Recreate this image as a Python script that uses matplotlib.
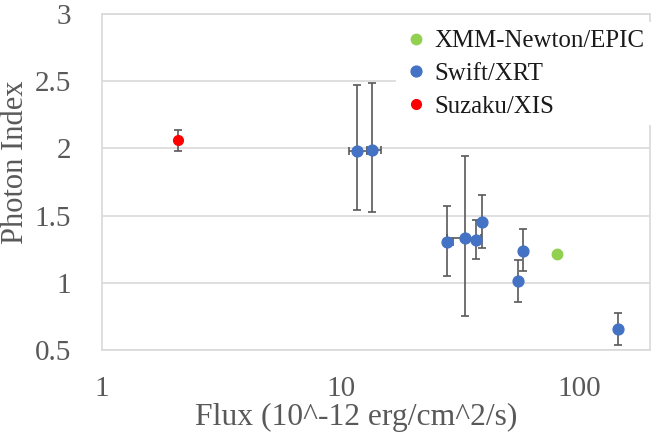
import matplotlib
matplotlib.use("Agg")
import matplotlib.pyplot as plt
import numpy as np

# XMM-Newton/EPIC
xmm_flux = [80.2]
xmm_index = [1.215]

# Swift/XRT
swift_flux = [11.7, 13.5, 28.0, 33.3, 37.0, 39.1, 55.5, 57.7, 144.3]
swift_index = [1.98, 1.99, 1.30, 1.33, 1.32, 1.45, 1.01, 1.24, 0.66]
swift_index_lo = [1.54, 1.53, 1.05, 0.755, 1.18, 1.26, 0.86, 1.09, 0.54]
swift_index_hi = [2.47, 2.49, 1.57, 1.94, 1.47, 1.65, 1.17, 1.40, 0.775]
swift_flux_lo = [10.8, 12.85, 27.0, 28.0, 37.0, 39.1, 55.5, 57.7, 144.3]
swift_flux_hi = [12.85, 14.8, 29.6, 38.5, 37.0, 39.1, 55.5, 57.7, 144.3]

# Suzaku/XIS
suzaku_flux = [2.09]
suzaku_index = [2.06]
suzaku_index_lo = [1.98]
suzaku_index_hi = [2.14]

y_ticks = [0.5, 1, 1.5, 2, 2.5, 3]
y_tick_labels = ["0.5", "1", "1.5", "2", "2.5", "3"]
x_ticks = [1, 10, 100]
x_tick_labels = ["1", "10", "100"]

plt.rcParams['font.family'] = ['Liberation Serif', 'DejaVu Serif']

fig = plt.figure(figsize=(6.54, 4.38), dpi=100)
ax = fig.add_axes([0.1552, 0.2009, 0.9939 - 0.1552, 0.968 - 0.2009])

ecol = '#595959'
blue = '#4472C4'
green = '#92D050'
red = '#FF0000'

sf = np.array(swift_flux)
si = np.array(swift_index)
yerr = [si - np.array(swift_index_lo), np.array(swift_index_hi) - si]
xerr = [sf - np.array(swift_flux_lo), np.array(swift_flux_hi) - sf]
ax.errorbar(sf, si, yerr=yerr, xerr=xerr, fmt='none', ecolor=ecol,
            elinewidth=1.2, capsize=3, capthick=1.2, zorder=3)

zf = np.array(suzaku_flux)
zi = np.array(suzaku_index)
ax.errorbar(zf, zi, yerr=[zi - np.array(suzaku_index_lo), np.array(suzaku_index_hi) - zi],
            fmt='none', ecolor=ecol, elinewidth=1.2, capsize=3, capthick=1.2, zorder=3)

ax.plot(xmm_flux, xmm_index, 'o', color=green, markersize=7.5, linestyle='none',
        label='XMM-Newton/EPIC', zorder=4)
ax.plot(swift_flux, swift_index, 'o', color=blue, markersize=7.8, linestyle='none',
        label='Swift/XRT', zorder=4)
ax.plot(suzaku_flux, suzaku_index, 'o', color=red, markersize=7, linestyle='none',
        label='Suzaku/XIS', zorder=4)

ax.set_xscale('log')
ax.set_xlim(1, 197)
ax.set_ylim(0.5, 3)
ax.set_xticks(x_ticks)
ax.set_xticklabels(x_tick_labels)
ax.xaxis.set_minor_locator(matplotlib.ticker.NullLocator())
ax.set_yticks(y_ticks)
ax.set_yticklabels(y_tick_labels)

ax.grid(True, axis='y', color='#d9d9d9', linewidth=1.2, zorder=0)
ax.set_axisbelow(True)
for s in ax.spines.values():
    s.set_color('#d9d9d9')
    s.set_linewidth(1.2)

ax.tick_params(axis='both', length=0, labelsize=21, colors='#595959')
ax.tick_params(axis='y', pad=22)
ax.tick_params(axis='x', pad=19)

ax.set_xlabel('Flux (10^-12 erg/cm^2/s)', fontsize=22.8, color='#595959')
ax.xaxis.set_label_coords(0.464, -0.158)
ax.set_ylabel('Photon Index', fontsize=22, color='#595959')
ax.yaxis.set_label_coords(-0.131, 0.56)

leg = ax.legend(loc='upper left', bbox_to_anchor=(0.537, 0.975), fontsize=17.9,
                frameon=True, facecolor='white', edgecolor='none', framealpha=1,
                borderpad=0.3, labelspacing=0.42, handletextpad=0.25,
                handlelength=1.0, borderaxespad=0.0, fancybox=False)
for t in leg.get_texts():
    t.set_color('#1a1a1a')
leg.set_zorder(5)

fig.savefig('out.png', dpi=100)
